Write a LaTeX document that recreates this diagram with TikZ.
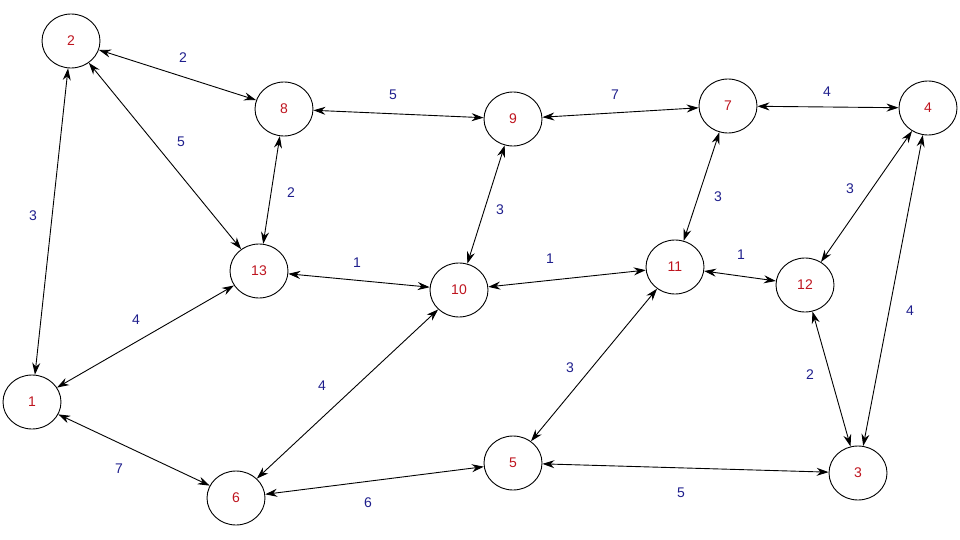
\documentclass[tikz,border=0pt]{standalone}
\usepackage{fontspec}
\setmainfont{Liberation Sans}
\usepackage{tikz}
\usetikzlibrary{arrows.meta,shapes.geometric}
\definecolor{vred}{RGB}{190,20,30}
\definecolor{wblue}{RGB}{30,30,140}
\tikzset{
	vtx/.style={draw, ellipse, line width=0.9pt, minimum width=58pt, minimum height=54pt, inner sep=0pt, text=vred, font=\fontsize{14}{16}\selectfont},
	wt/.style={text=wblue, font=\fontsize{14}{16}\selectfont, inner sep=1pt},
	arc/.style={line width=0.9pt, {Stealth[length=12pt,width=8pt,inset=4pt]}-{Stealth[length=12pt,width=8pt,inset=4pt]}}
}
\begin{document}
\begin{tikzpicture}[x=1pt,y=-1pt]
		\useasboundingbox (0,0) rectangle (960,540);
		% vertices
		\node[vtx] (v1) at (32,402) {1};
		\node[vtx] (v2) at (71,41) {2};
		\node[vtx] (v3) at (858,473) {3};
		\node[vtx] (v4) at (928,108) {4};
		\node[vtx] (v5) at (513,463) {5};
		\node[vtx] (v6) at (236,498) {6};
		\node[vtx] (v7) at (728,106) {7};
		\node[vtx] (v8) at (284,109) {8};
		\node[vtx] (v9) at (513,119) {9};
		\node[vtx] (v10) at (459,290) {10};
		\node[vtx] (v11) at (675,267) {11};
		\node[vtx] (v12) at (805,285) {12};
		\node[vtx] (v13) at (259,271) {13};
		% edges
		\draw[arc] (v2) -- (v8);
		\draw[arc] (v2) -- (v13);
		\draw[arc] (v2) -- (v1);
		\draw[arc] (v8) -- (v9);
		\draw[arc] (v8) -- (v13);
		\draw[arc] (v9) -- (v7);
		\draw[arc] (v9) -- (v10);
		\draw[arc] (v7) -- (v4);
		\draw[arc] (v7) -- (v11);
		\draw[arc] (v4) -- (v12);
		\draw[arc] (v4) -- (v3);
		\draw[arc] (v13) -- (v10);
		\draw[arc] (v13) -- (v1);
		\draw[arc] (v10) -- (v11);
		\draw[arc] (v10) -- (v6);
		\draw[arc] (v11) -- (v12);
		\draw[arc] (v11) -- (v5);
		\draw[arc] (v12) -- (v3);
		\draw[arc] (v1) -- (v6);
		\draw[arc] (v6) -- (v5);
		\draw[arc] (v5) -- (v3);
		% weights
		\node[wt] (w2-8) at (183,58) {2};
		\node[wt] (w2-13) at (181,142) {5};
		\node[wt] (w2-1) at (33,216) {3};
		\node[wt] (w8-9) at (393,95) {5};
		\node[wt] (w8-13) at (291,193) {2};
		\node[wt] (w9-7) at (615,95) {7};
		\node[wt] (w9-10) at (500,210) {3};
		\node[wt] (w7-4) at (827,92) {4};
		\node[wt] (w7-11) at (718,197) {3};
		\node[wt] (w4-12) at (850,189) {3};
		\node[wt] (w4-3) at (910,311) {4};
		\node[wt] (w13-10) at (357,263) {1};
		\node[wt] (w13-1) at (136,320) {4};
		\node[wt] (w10-11) at (550,259) {1};
		\node[wt] (w10-6) at (322,386) {4};
		\node[wt] (w11-12) at (741,255) {1};
		\node[wt] (w11-5) at (570,368) {3};
		\node[wt] (w12-3) at (810,375) {2};
		\node[wt] (w1-6) at (119,469) {7};
		\node[wt] (w6-5) at (368,503) {6};
		\node[wt] (w5-3) at (681,493) {5};
	\end{tikzpicture}
\end{document}
